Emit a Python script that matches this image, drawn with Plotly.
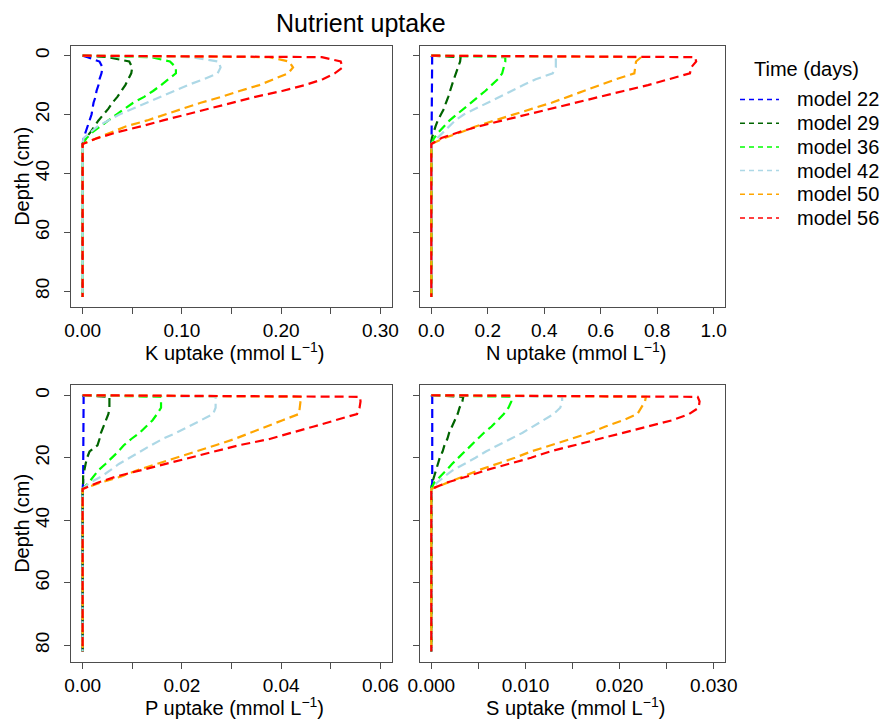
import plotly.graph_objects as go

# ---------------- data ----------------
DEPTH = [0, 0.5, 2, 4, 6, 8, 10, 12, 14, 16, 18, 20, 22, 24, 26, 28, 30, 82]

MODELS = ["model 22", "model 29", "model 36", "model 42", "model 50", "model 56"]
COLORS = ["#0000FF", "#006400", "#00FF00", "#ADD8E6", "#FFA500", "#FF0000"]

K_22 = [0, 0.005, 0.017, 0.020, 0.019, 0.017, 0.016, 0.014, 0.013, 0.011, 0.010, 0.009, 0.007, 0.005, 0.003, 0.001, 0, 0]
K_29 = [0, 0.025, 0.047, 0.050, 0.049, 0.046, 0.043, 0.039, 0.035, 0.030, 0.026, 0.021, 0.016, 0.012, 0.008, 0.003, 0, 0]
K_36 = [0, 0.069, 0.088, 0.094, 0.094, 0.087, 0.079, 0.071, 0.062, 0.051, 0.042, 0.034, 0.026, 0.018, 0.010, 0.004, 0, 0]
K_42 = [0, 0.110, 0.137, 0.139, 0.136, 0.122, 0.106, 0.092, 0.079, 0.064, 0.050, 0.037, 0.026, 0.015, 0.008, 0.001, 0, 0]
K_50 = [0, 0.188, 0.208, 0.212, 0.207, 0.192, 0.178, 0.158, 0.140, 0.119, 0.101, 0.084, 0.065, 0.044, 0.029, 0.014, 0, 0]
K_56 = [0, 0.241, 0.260, 0.262, 0.254, 0.242, 0.224, 0.201, 0.174, 0.150, 0.126, 0.103, 0.081, 0.059, 0.035, 0.015, 0, 0]

N_22 = [0, 0.003, 0.003, 0.003, 0.003, 0.003, 0.003, 0.002, 0.002, 0.002, 0.002, 0.002, 0.001, 0.001, 0.001, 0.001, 0, 0]
N_29 = [0, 0.104, 0.102, 0.094, 0.086, 0.080, 0.073, 0.067, 0.060, 0.052, 0.045, 0.034, 0.023, 0.015, 0.009, 0.002, 0, 0]
N_36 = [0, 0.262, 0.262, 0.257, 0.251, 0.236, 0.215, 0.191, 0.166, 0.142, 0.118, 0.090, 0.065, 0.045, 0.026, 0.010, 0, 0]
N_42 = [0, 0.441, 0.441, 0.441, 0.430, 0.370, 0.326, 0.284, 0.240, 0.197, 0.155, 0.115, 0.085, 0.064, 0.043, 0.020, 0, 0]
N_50 = [0, 0.743, 0.725, 0.722, 0.719, 0.654, 0.597, 0.541, 0.485, 0.426, 0.358, 0.289, 0.220, 0.159, 0.105, 0.045, 0, 0]
N_56 = [0, 0.934, 0.938, 0.920, 0.916, 0.844, 0.767, 0.681, 0.594, 0.509, 0.425, 0.338, 0.251, 0.168, 0.097, 0.036, 0, 0]

P_22 = [0, 0.0002, 0.0002, 0.0002, 0.0002, 0.0002, 0.0002, 0.0002, 0.0001, 0.0001, 0.0001, 0.0001, 0.0001, 0.0001, 0.0001, 0.0001, 0, 0]
P_29 = [0, 0.0054, 0.0054, 0.0054, 0.0052, 0.0047, 0.0042, 0.0037, 0.0034, 0.0030, 0.0014, 0.0009, 0.0006, 0.0003, 0.0001, 0.0001, 0, 0]
P_36 = [0, 0.0158, 0.0158, 0.0158, 0.0150, 0.0141, 0.0128, 0.0115, 0.0098, 0.0083, 0.0072, 0.0060, 0.0046, 0.0032, 0.0022, 0.0012, 0, 0]
P_42 = [0, 0.0268, 0.0268, 0.0268, 0.0263, 0.0240, 0.0214, 0.0189, 0.0161, 0.0138, 0.0116, 0.0092, 0.0073, 0.0056, 0.0038, 0.0014, 0, 0]
P_50 = [0, 0.0442, 0.0439, 0.0437, 0.0436, 0.0403, 0.0370, 0.0337, 0.0306, 0.0268, 0.0228, 0.0187, 0.0145, 0.0110, 0.0078, 0.0036, 0, 0]
P_56 = [0, 0.0559, 0.0560, 0.0558, 0.0553, 0.0511, 0.0466, 0.0421, 0.0377, 0.0315, 0.0265, 0.0216, 0.0168, 0.0117, 0.0068, 0.0030, 0, 0]

S_22 = [0, 0.0001, 0.0001, 0.0001, 0.0001, 0.0001, 0.0001, 0.0001, 0.0001, 0.0001, 0.0001, 0.0001, 0.0001, 0.0001, 0.0001, 0.0001, 0, 0]
S_29 = [0, 0.0034, 0.0033, 0.0030, 0.0028, 0.0025, 0.0022, 0.0019, 0.0017, 0.0014, 0.0012, 0.0009, 0.0007, 0.0005, 0.0003, 0.0001, 0, 0]
S_36 = [0, 0.0085, 0.0085, 0.0082, 0.0077, 0.0071, 0.0064, 0.0056, 0.0049, 0.0042, 0.0035, 0.0029, 0.0022, 0.0016, 0.0010, 0.0003, 0, 0]
S_42 = [0, 0.0139, 0.0139, 0.0137, 0.0130, 0.0119, 0.0108, 0.0097, 0.0084, 0.0071, 0.0058, 0.0047, 0.0035, 0.0023, 0.0014, 0.0006, 0, 0]
S_50 = [0, 0.0228, 0.0227, 0.0223, 0.0219, 0.0204, 0.0185, 0.0169, 0.0148, 0.0127, 0.0106, 0.0089, 0.0070, 0.0050, 0.0034, 0.0016, 0, 0]
S_56 = [0, 0.0283, 0.0285, 0.0284, 0.0274, 0.0256, 0.0230, 0.0204, 0.0178, 0.0153, 0.0126, 0.0106, 0.0081, 0.0058, 0.0038, 0.0016, 0, 0]

K_TICKS = [0, 0.10, 0.20, 0.30]
K_LABELS = ["0.00", "0.10", "0.20", "0.30"]
K_MINOR = [0.05, 0.15, 0.25]
N_TICKS = [0, 0.2, 0.4, 0.6, 0.8, 1.0]
N_LABELS = ["0.0", "0.2", "0.4", "0.6", "0.8", "1.0"]
N_MINOR = []
P_TICKS = [0, 0.02, 0.04, 0.06]
P_LABELS = ["0.00", "0.02", "0.04", "0.06"]
P_MINOR = [0.01, 0.03, 0.05]
S_TICKS = [0, 0.010, 0.020, 0.030]
S_LABELS = ["0.000", "0.010", "0.020", "0.030"]
S_MINOR = [0.005, 0.015, 0.025]
DEPTH_TICKS = [0, 20, 40, 60, 80]
LEGEND_TITLE = "Time (days)"

PANELS = [
    ("K", [K_22, K_29, K_36, K_42, K_50, K_56], (0, 0.30), K_TICKS, K_LABELS, K_MINOR),
    ("N", [N_22, N_29, N_36, N_42, N_50, N_56], (0, 1.0), N_TICKS, N_LABELS, N_MINOR),
    ("P", [P_22, P_29, P_36, P_42, P_50, P_56], (0, 0.06), P_TICKS, P_LABELS, P_MINOR),
    ("S", [S_22, S_29, S_36, S_42, S_50, S_56], (0, 0.03), S_TICKS, S_LABELS, S_MINOR),
]

# ---------------- layout geometry (pixels) ----------------
W, H = 884, 722
XDOM = [(70.7, 392.3), (420.0, 725.0), (70.7, 392.3), (420.0, 725.0)]
YDOM = [(46.0, 306.7), (46.0, 306.7), (385.0, 661.7), (385.0, 661.7)]
FONT = "Liberation Sans, Arial, sans-serif"
FRAME = "#4d4d4d"
DASH = "9px,5px"

fig = go.Figure()
layout = dict(
    width=W, height=H, autosize=False,
    margin=dict(l=0, r=0, t=0, b=0, autoexpand=False),
    paper_bgcolor="white", plot_bgcolor="white",
    font=dict(family=FONT, color="black", size=19),
    showlegend=False,
)

annotations = []
shapes = []
for i, (name, series, (lo, hi), tv, tt, mv) in enumerate(PANELS):
    sfx = "" if i == 0 else str(i + 1)
    left_col = (i % 2 == 0)
    ext = (hi - lo) * 0.04
    for j, vals in enumerate(series):
        fig.add_trace(go.Scatter(
            x=vals, y=DEPTH, mode="lines", name=MODELS[j],
            line=dict(color=COLORS[j], width=2.2, dash=DASH),
            xaxis="x" + sfx, yaxis="y" + sfx,
        ))
    x0, x1 = XDOM[i]
    y0, y1 = YDOM[i]
    xa = dict(
        domain=[x0 / W, x1 / W], anchor="y" + sfx,
        range=[lo - ext, hi + ext], tickvals=tv, ticktext=tt,
        ticks="outside", ticklen=6, tickcolor=FRAME, tickwidth=1,
        showline=True, mirror=True, linecolor=FRAME, linewidth=1,
        showgrid=False, zeroline=False, tickfont=dict(size=19),
        automargin=False,
    )
    if mv:
        xa["minor"] = dict(tickvals=mv, ticks="outside", ticklen=6,
                           tickcolor=FRAME, tickwidth=1, showgrid=False)
    layout["xaxis" + sfx] = xa
    dext = 82 * 0.04
    layout["yaxis" + sfx] = dict(
        domain=[1 - y1 / H, 1 - y0 / H], anchor="x" + sfx,
        range=[82 + dext, -dext], tickvals=DEPTH_TICKS,
        ticktext=[str(v) for v in DEPTH_TICKS], tickangle=-90,
        showticklabels=left_col,
        ticks="outside", ticklen=6, tickcolor=FRAME, tickwidth=1,
        showline=True, mirror=True, linecolor=FRAME, linewidth=1,
        showgrid=False, zeroline=False, tickfont=dict(size=19),
        ticklabelstandoff=7, automargin=False,
    )
    annotations.append(dict(
        text=f"{name} uptake (mmol L<sup>\u22121</sup>)", showarrow=False,
        xref="paper", yref="paper", x=(x0 + x1) / 2 / W + 3 / W,
        y=1 - (y1 + 45) / H, xanchor="center", yanchor="middle",
        font=dict(size=20),
    ))
    if left_col:
        annotations.append(dict(
            text="Depth (cm)", showarrow=False, textangle=-90,
            xref="paper", yref="paper", x=22.5 / W,
            y=1 - (y0 + y1) / 2 / H, xanchor="center", yanchor="middle",
            font=dict(size=20),
        ))

annotations.append(dict(
    text="Nutrient uptake", showarrow=False, xref="paper", yref="paper",
    x=361 / W, y=1 - 23 / H, xanchor="center", yanchor="middle",
    font=dict(size=25),
))

# ---------------- legend (drawn by hand to match spacing) ----------------
annotations.append(dict(
    text=LEGEND_TITLE, showarrow=False, xref="paper", yref="paper",
    x=752 / W, y=1 - 69 / H, xanchor="left", yanchor="middle",
    font=dict(size=20),
))
for j, m in enumerate(MODELS):
    yc = 99.5 + 23.7 * j
    annotations.append(dict(
        text=m, showarrow=False, xref="paper", yref="paper",
        x=795 / W, y=1 - yc / H, xanchor="left", yanchor="middle",
        font=dict(size=20),
    ))
    shapes.append(dict(
        type="line", xref="paper", yref="paper",
        x0=740 / W, x1=779 / W, y0=1 - yc / H, y1=1 - yc / H,
        line=dict(color=COLORS[j], width=1.5, dash="5px,4px"),
    ))

layout["annotations"] = annotations
layout["shapes"] = shapes
fig.update_layout(**layout)
fig.write_html("out.html")
